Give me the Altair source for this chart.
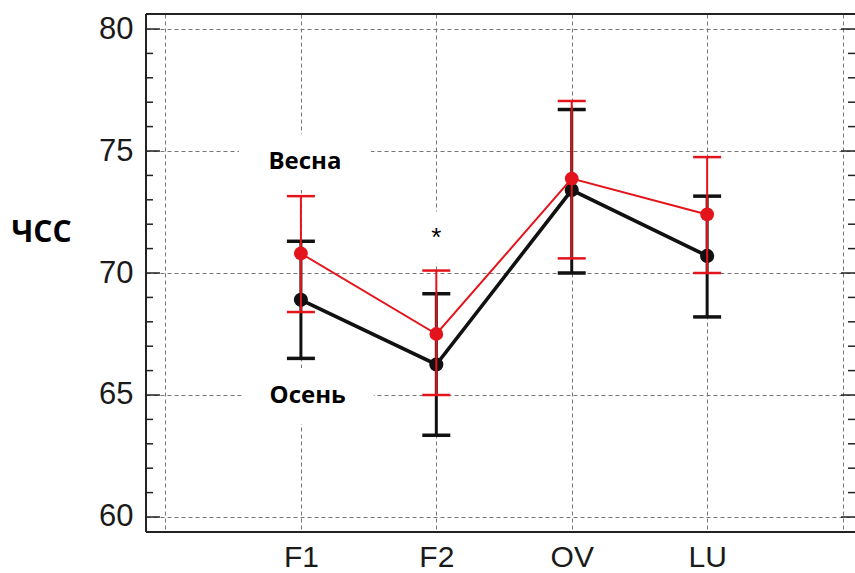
import altair as alt
import pandas as pd

# Heart rate (ЧСС) by test phase, autumn vs spring: mean with error range
phases = ["F1", "F2", "OV", "LU"]
phase_pos = [1, 2, 3, 4]

autumn_mean = [68.9, 66.25, 73.4, 70.7]
autumn_lo = [66.5, 63.35, 70.0, 68.2]
autumn_hi = [71.3, 69.15, 76.7, 73.15]

spring_mean = [70.8, 67.5, 73.87, 72.4]
spring_lo = [68.4, 65.0, 70.6, 70.0]
spring_hi = [73.15, 70.1, 77.05, 74.75]

y_ticks_major = [60, 65, 70, 75, 80]
y_ticks_minor = [61, 62, 63, 64, 66, 67, 68, 69, 71, 72, 73, 74, 76, 77, 78, 79]
x_grid = [0, 1, 2, 3, 4, 5]

# text annotations: label, x, y, bold
notes = [
    ("Весна", 1.03, 74.55, True),
    ("Осень", 1.05, 64.96, True),
    ("*", 2.0, 71.45, False),
]

W, H = 709, 518
X_DOM = [-0.144, 5.092]
Y_DOM = [59.385, 80.615]
px_x = (X_DOM[1] - X_DOM[0]) / W
px_y = (Y_DOM[1] - Y_DOM[0]) / H

RED = "#e3141b"
BLACK = "#111111"

rows = []
for season, m, lo, hi in [("Осень", autumn_mean, autumn_lo, autumn_hi),
                          ("Весна", spring_mean, spring_lo, spring_hi)]:
    for p, pos, a, b, c in zip(phases, phase_pos, m, lo, hi):
        rows.append({"season": season, "phase": p, "x": pos, "mean": a, "lo": b, "hi": c})
df = pd.DataFrame(rows)

xs = alt.Scale(domain=X_DOM, nice=False, zero=False)
ys = alt.Scale(domain=Y_DOM, nice=False, zero=False)

label_expr = " : ".join(
    [f"datum.value == {p} ? '{n}'" for p, n in zip(phase_pos, phases)]
) + " : ''"

x_axis = alt.Axis(
    values=x_grid, labelExpr=label_expr, grid=True, gridDash=[4, 3],
    gridColor="#777", gridWidth=1, ticks=False, tickSize=0, domain=False,
    labelFont="Liberation Sans", labelFontSize=30, labelColor="#1a1a1a",
    labelPadding=10, title=None,
)
y_axis = alt.Axis(
    values=y_ticks_major, grid=True, gridDash=[4, 3], gridColor="#777",
    gridWidth=1, ticks=False, tickSize=0, domain=False,
    labelFont="Liberation Sans", labelFontSize=31, labelColor="#1a1a1a",
    labelPadding=13, title="ЧСС", titleAngle=0, titleX=-105, titleY=218,
    titleAlign="center", titleBaseline="middle", titleFont="Open Sans",
    titleFontWeight="bold", titleFontSize=30, titleColor="#000",
)

# base layer carrying the axes and gridlines
base = alt.Chart(df).mark_point(opacity=0).encode(
    x=alt.X("x:Q", scale=xs, axis=x_axis),
    y=alt.Y("mean:Q", scale=ys, axis=y_axis),
)

# white boxes behind the annotation texts
box_rows = []
for txt, x, y, bold in notes:
    hw, hh = (66, 28) if bold else (30, 26)
    box_rows.append({"x1": x - hw * px_x, "x2": x + hw * px_x,
                     "y1": y - hh * px_y, "y2": y + hh * px_y})
boxes = alt.Chart(pd.DataFrame(box_rows)).mark_rect(color="white").encode(
    x=alt.X("x1:Q", scale=xs), x2="x2:Q",
    y=alt.Y("y1:Q", scale=ys), y2="y2:Q",
)


def series(season, color, lw, bw, cap_w, size):
    d = df[df.season == season]
    c = alt.Chart(d)
    bars = c.mark_rule(color=color, strokeWidth=bw).encode(
        x=alt.X("x:Q", scale=xs), y=alt.Y("lo:Q", scale=ys), y2="hi:Q")
    cap_lo = c.mark_rule(color=color, strokeWidth=cap_w, xOffset=-14, x2Offset=14).encode(
        x=alt.X("x:Q", scale=xs), x2="x:Q", y=alt.Y("lo:Q", scale=ys))
    cap_hi = c.mark_rule(color=color, strokeWidth=cap_w, xOffset=-14, x2Offset=14).encode(
        x=alt.X("x:Q", scale=xs), x2="x:Q", y=alt.Y("hi:Q", scale=ys))
    line = c.mark_line(color=color, strokeWidth=lw).encode(
        x=alt.X("x:Q", scale=xs), y=alt.Y("mean:Q", scale=ys))
    pts = c.mark_circle(color=color, size=size, opacity=1).encode(
        x=alt.X("x:Q", scale=xs), y=alt.Y("mean:Q", scale=ys))
    return [bars, cap_lo, cap_hi, line, pts]


autumn = series("Осень", BLACK, 3.6, 3, 3.5, 200)
spring = series("Весна", RED, 2, 2, 2.5, 190)

note_df = pd.DataFrame([{"t": t, "x": x, "y": y} for t, x, y, b in notes if b])
star_df = pd.DataFrame([{"t": t, "x": x, "y": y} for t, x, y, b in notes if not b])
note_text = alt.Chart(note_df).mark_text(
    font="Open Sans", fontWeight="bold", fontSize=24, color="#000"
).encode(x=alt.X("x:Q", scale=xs), y=alt.Y("y:Q", scale=ys), text="t:N")
star_text = alt.Chart(star_df).mark_text(
    font="Liberation Sans", fontSize=26, color="#000", baseline="middle"
).encode(x=alt.X("x:Q", scale=xs), y=alt.Y("y:Q", scale=ys), text="t:N")

# inward tick marks on left and right frame
maj = pd.DataFrame({"v": y_ticks_major})
mnr = pd.DataFrame({"v": y_ticks_minor})
tick_layers = []
for d, ln in [(maj, 14), (mnr, 7)]:
    tick_layers.append(alt.Chart(d).mark_rule(color="#222", strokeWidth=1.5).encode(
        y=alt.Y("v:Q", scale=ys), x=alt.value(0), x2=alt.value(ln)))
    tick_layers.append(alt.Chart(d).mark_rule(color="#222", strokeWidth=1.5).encode(
        y=alt.Y("v:Q", scale=ys), x=alt.value(W - ln), x2=alt.value(W)))

# frame: left, top, bottom
frame = [
    alt.Chart(maj).mark_rule(color="#222", strokeWidth=2).encode(
        x=alt.value(0), y=alt.value(0), y2=alt.value(H)),
    alt.Chart(maj).mark_rule(color="#222", strokeWidth=2).encode(
        x=alt.value(0), x2=alt.value(W), y=alt.value(0)),
    alt.Chart(maj).mark_rule(color="#222", strokeWidth=2).encode(
        x=alt.value(0), x2=alt.value(W), y=alt.value(H)),
]

chart = alt.layer(
    base, boxes, *tick_layers, *frame, *autumn, *spring, note_text, star_text
).properties(
    width=W, height=H,
    padding={"left": 146, "top": 14, "right": 0, "bottom": 41},
    autosize="none",
).configure_view(stroke=None).configure(background="white")

chart.save("out.html", embed_options={"renderer": "svg", "actions": False})
